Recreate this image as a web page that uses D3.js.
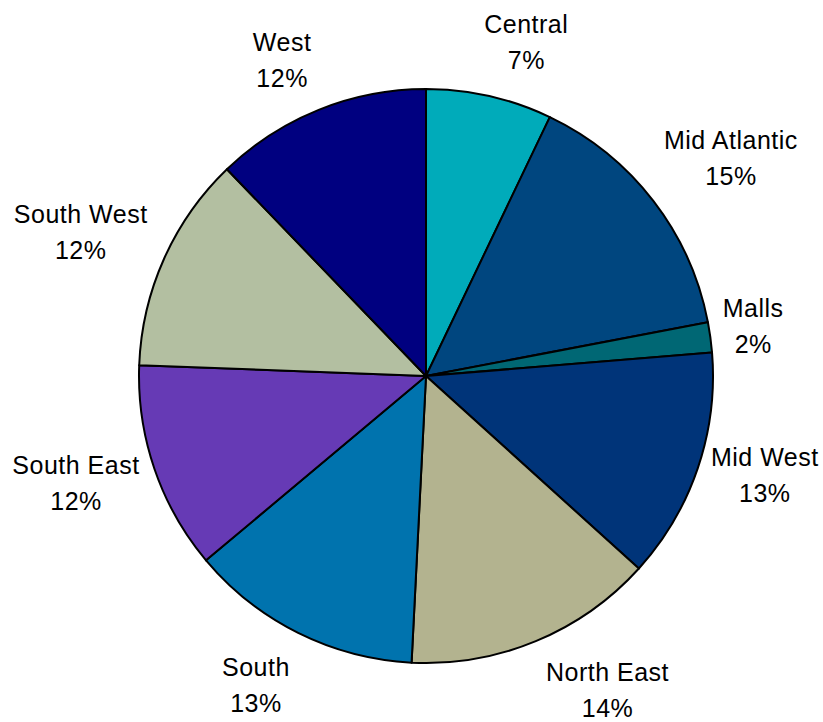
<!DOCTYPE html>
<html>
<head>
<meta charset="utf-8">
<script src="https://cdn.jsdelivr.net/npm/d3@7"></script>
<style>
  html, body { margin: 0; padding: 0; background: #ffffff; }
  svg { display: block; }
  text { font-family: "Liberation Sans", Arial, Helvetica, sans-serif; }
</style>
</head>
<body>
<svg id="chart" width="823" height="722"></svg>
<script>
// ---- data ----
const regions = ["Central", "Mid Atlantic", "Malls", "Mid West", "North East", "South", "South East", "South West", "West"];
const shares  = [7.1, 14.9, 1.7, 13.0, 14.1, 13.1, 11.7, 12.2, 12.2];
const colors  = ["#00abba", "#00467f", "#006774", "#003479", "#b3b38f", "#0073ae", "#663ab5", "#b3bfa1", "#000080"];
// label placement (polar: angle in degrees clockwise from 12 o'clock, distance from centre)
const labelAngles = [16.7, 54.4, 81.3, 106.3, 150.0, 208.8, 253.0, 292.6, 335.5];
const labelDist   = [349, 375, 331, 353, 363, 353, 366, 374, 347];

const W = 823, H = 722;
const cx = 426, cy = 376, R = 287;

const svg = d3.select("#chart");
const g = svg.append("g").attr("transform", `translate(${cx},${cy})`);

const data = regions.map((r, i) => ({ region: r, value: shares[i], color: colors[i], i }));
const pie = d3.pie().value(d => d.value).sort(null).startAngle(0).endAngle(2 * Math.PI);
const arc = d3.arc().innerRadius(0).outerRadius(R);

const arcs = pie(data);
g.selectAll("path.slice")
  .data(arcs)
  .join("path")
  .attr("class", "slice")
  .attr("d", arc)
  .attr("fill", d => d.data.color)
  .attr("stroke", "#000")
  .attr("stroke-width", 2)
  .attr("stroke-linejoin", "round");

const fmt = v => Math.round(v) + "%";
const lbl = g.selectAll("text.lbl")
  .data(arcs)
  .join("text")
  .attr("class", "lbl")
  .attr("text-anchor", "middle")
  .attr("font-size", 25)
  .attr("letter-spacing", 0.5)
  .attr("fill", "#000")
  .attr("transform", d => {
    const a = labelAngles[d.data.i] * Math.PI / 180;
    const dist = labelDist[d.data.i];
    return `translate(${Math.sin(a) * dist},${-Math.cos(a) * dist})`;
  });
lbl.append("tspan").attr("x", 0).attr("y", -9).text(d => d.data.region);
lbl.append("tspan").attr("x", 0).attr("y", 27).text(d => fmt(d.data.value));
</script>
</body>
</html>
